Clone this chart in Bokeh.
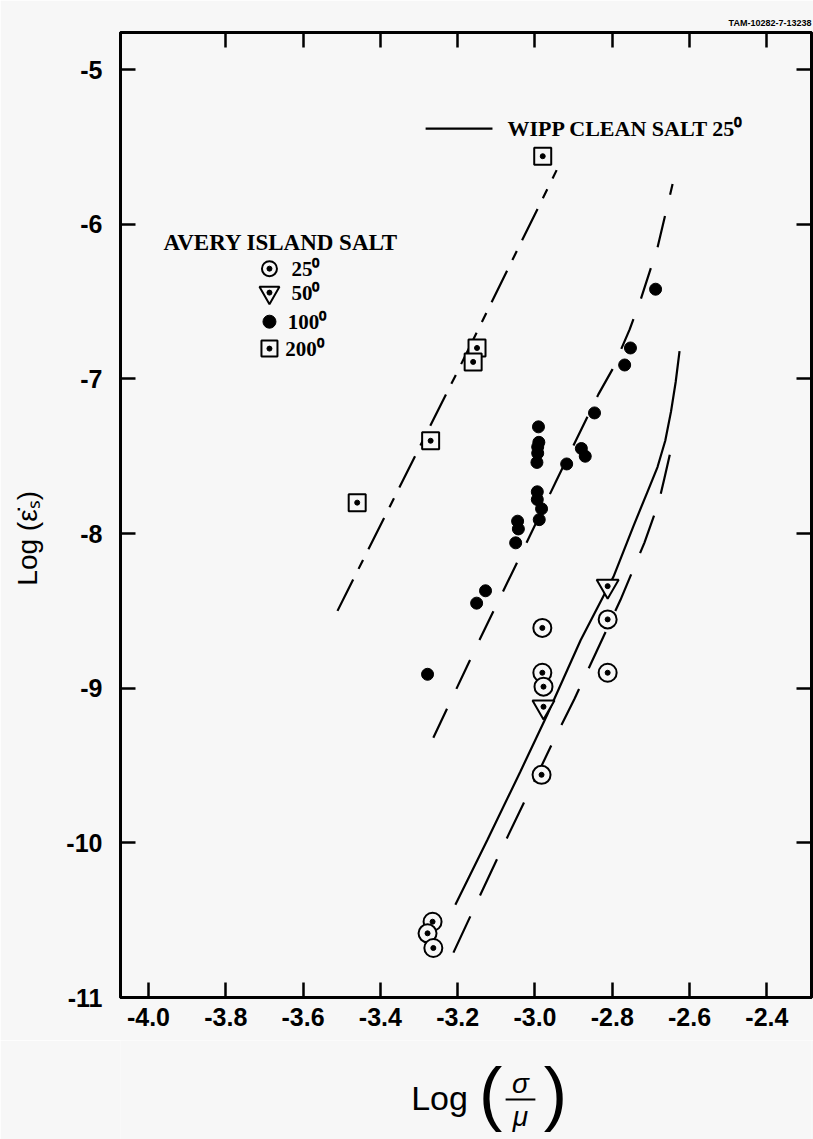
from bokeh.plotting import figure
from bokeh.layouts import column
from bokeh.models import Range1d, LinearAxis, FixedTicker, Label, NumeralTickFormatter
from bokeh.embed import file_html
from bokeh.resources import INLINE
from bokeh.core.properties import value

# ---------------- data ----------------
# Avery Island salt, 200 deg (boxed dot)
t200_x = [-2.98, -3.15, -3.16, -3.27, -3.46]
t200_y = [-5.56, -6.80, -6.89, -7.40, -7.80]

# Avery Island salt, 100 deg (filled dot)
t100_x = [-2.688, -2.753, -2.768, -2.846, -2.991, -2.990, -2.993, -2.993, -2.995,
          -2.880, -2.870, -2.918, -2.994, -2.994, -2.983, -2.989, -3.045, -3.043,
          -3.050, -3.128, -3.151, -3.278]
t100_y = [-6.42, -6.80, -6.91, -7.22, -7.31, -7.41, -7.44, -7.48, -7.54,
          -7.45, -7.50, -7.55, -7.73, -7.78, -7.84, -7.91, -7.92, -7.97,
          -8.06, -8.37, -8.45, -8.91]

# Avery Island salt, 50 deg (inverted triangle)
t50_x = [-2.812, -2.978]
t50_y = [-8.34, -9.12]

# Avery Island salt, 25 deg (circled dot)
t25_x = [-2.981, -2.812, -2.981, -2.978, -2.812, -2.983, -3.265, -3.278, -3.263]
t25_y = [-8.61, -8.555, -8.90, -8.99, -8.90, -9.56, -10.51, -10.585, -10.68]

# WIPP clean salt 25 deg (solid curve)
wipp_x = [-3.206, -3.123, -3.038, -2.968, -2.882, -2.797, -2.745, -2.709, -2.683, -2.663, -2.648, -2.636, -2.626]
wipp_y = [-10.40, -9.98, -9.54, -9.17, -8.69, -8.28, -7.95, -7.73, -7.57, -7.40, -7.21, -7.02, -6.82]

# fitted dashed curves for Avery Island salt
fit25_x = [-3.211, -3.144, -3.069, -2.952, -2.898, -2.779, -2.717, -2.680, -2.665, -2.642]
fit25_y = [-10.71, -10.35, -9.95, -9.34, -9.07, -8.43, -8.06, -7.80, -7.64, -7.39]
fit100_x = [-3.263, -3.144, -3.045, -2.947, -2.836, -2.800, -2.755, -2.727, -2.683, -2.644]
fit100_y = [-9.32, -8.69, -8.18, -7.67, -7.10, -6.94, -6.68, -6.49, -6.15, -5.74]
fit200_x = [-3.511, -3.203, -2.944]
fit200_y = [-8.50, -6.965, -5.65]

x_ticks = [-4.0, -3.8, -3.6, -3.4, -3.2, -3.0, -2.8, -2.6, -2.4]
x_ticks_top = [-3.8, -3.6, -3.4, -3.2, -3.0, -2.8, -2.6, -2.4]
y_ticks = [-5, -6, -7, -8, -9, -10, -11]

legend_title = "AVERY ISLAND SALT"
legend_labels = ["25\u2070", "50\u2070", "100\u2070", "200\u2070"]
wipp_label = "WIPP CLEAN SALT  25\u2070"
doc_id = "TAM-10282-7-13238"
y_label = "Log (\u03b5\u0307\u209b)"
x_label_parts = ["Log", "(", ")", "\u03c3", "\u03bc"]

# ---------------- figure ----------------
BG = "#f7f7f7"
SANS = "Liberation Sans"
SERIF = "Liberation Serif"

p = figure(width=813, height=1040,
           x_range=Range1d(-4.0724, -2.2846), y_range=Range1d(-11.0, -4.76),
           output_backend="svg", toolbar_location=None,
           min_border_left=120, min_border_right=2, min_border_top=32, min_border_bottom=43)
p.background_fill_color = BG
p.border_fill_color = BG
p.outline_line_color = "black"
p.outline_line_width = 3
p.xgrid.visible = False
p.ygrid.visible = False

p.title.text = doc_id
p.title.align = "right"
p.title.text_font = SANS
p.title.text_font_style = "bold"
p.title.text_font_size = "9px"
p.title.text_color = "black"
p.title.standoff = 10


def style_axis(ax, ticks, labels=True, fmt="0"):
    ax.ticker = FixedTicker(ticks=ticks)
    ax.formatter = NumeralTickFormatter(format=fmt)
    ax.axis_line_color = "black"
    ax.axis_line_width = 3
    ax.major_tick_line_color = "black"
    ax.major_tick_line_width = 2.5
    ax.major_tick_in = 15
    ax.major_tick_out = 0
    ax.minor_tick_line_color = None
    if labels:
        ax.major_label_text_font = SANS
        ax.major_label_text_font_style = "bold"
        ax.major_label_text_font_size = "25px"
        ax.major_label_text_color = "black"
    else:
        ax.major_label_text_font_size = "1px"
        ax.major_label_text_color = None
        ax.major_label_standoff = 0


style_axis(p.xaxis[0], x_ticks, fmt="0.0")
p.xaxis[0].major_label_standoff = 10
style_axis(p.yaxis[0], y_ticks)
p.yaxis[0].major_label_standoff = 18
# non-breaking spaces at the end push the centred label down, as in the original
p.yaxis[0].axis_label = y_label + "\u00a0" * 6
p.yaxis[0].axis_label_text_font = SANS
p.yaxis[0].axis_label_text_font_style = "normal"
p.yaxis[0].axis_label_text_font_size = "28px"
p.yaxis[0].axis_label_text_color = "black"
p.yaxis[0].axis_label_standoff = 20

ax_r = LinearAxis()
style_axis(ax_r, y_ticks, labels=False)
p.add_layout(ax_r, "right")
ax_t = LinearAxis()
style_axis(ax_t, x_ticks_top, labels=False)
p.add_layout(ax_t, "above")

# ---------------- curves ----------------
p.line(wipp_x, wipp_y, line_color="black", line_width=2.2)
p.line(fit25_x, fit25_y, line_color="black", line_width=2.2, line_dash="40 23")
p.line(fit100_x, fit100_y, line_color="black", line_width=2.2, line_dash="32 22")
p.line(fit200_x, fit200_y, line_color="black", line_width=2.2, line_dash="35 12 10 12")

# ---------------- markers ----------------
def boxed(xs, ys, marker, size):
    p.scatter(xs, ys, marker=marker, size=size, fill_color=BG, line_color="black", line_width=2)
    p.scatter(xs, ys, marker="circle", size=5, fill_color="black", line_color="black")

boxed(t200_x, t200_y, "square", 17)
boxed(t25_x, t25_y, "circle", 18)
boxed(t50_x, t50_y, "inverted_triangle", 22)
p.scatter(t100_x, t100_y, marker="circle", size=12, fill_color="black", line_color="black")

# ---------------- legend (drawn as in the original) ----------------
leg_x = -3.687
leg_y = [-6.287, -6.442, -6.630, -6.804]
leg_tx = [-3.630, -3.630, -3.640, -3.646]
p.scatter([leg_x], [leg_y[0]], marker="circle", size=15, fill_color=BG, line_color="black", line_width=2)
p.scatter([leg_x], [leg_y[1]], marker="inverted_triangle", size=20, fill_color=BG, line_color="black", line_width=2)
p.scatter([leg_x], [leg_y[3]], marker="square", size=16, fill_color=BG, line_color="black", line_width=2)
p.scatter([leg_x] * 3, [leg_y[0], leg_y[1], leg_y[3]], marker="circle", size=5, fill_color="black", line_color="black")
p.scatter([leg_x], [leg_y[2]], marker="circle", size=13, fill_color="black", line_color="black")
p.add_layout(Label(x=-3.961, y=-6.118, text=legend_title, text_font=SERIF, text_font_style="bold",
                   text_font_size="23px", text_color="black", text_baseline="middle", text_align="left"))
for tx, ty, t in zip(leg_tx, leg_y, legend_labels):
    p.add_layout(Label(x=tx, y=ty, text=t, text_font=SERIF, text_font_style="bold",
                       text_font_size="21px", text_color="black", text_baseline="middle", text_align="left"))

p.line([-3.283, -3.110], [-5.381, -5.381], line_color="black", line_width=2.2)
p.add_layout(Label(x=-3.071, y=-5.381, text=wipp_label, text_font=SERIF, text_font_style="bold",
                   text_font_size="22px", text_color="black", text_baseline="middle", text_align="left"))

# ---------------- x-axis label strip: Log( sigma / mu ) ----------------
# a bare strip below the chart: same x scale as the chart, y in page pixels (downwards)
q = figure(width=813, height=99, x_range=p.x_range, y_range=Range1d(1139, 1040),
           x_axis_location=None, y_axis_location=None,
           output_backend="svg", toolbar_location=None,
           min_border_left=120, min_border_right=2, min_border_top=0, min_border_bottom=0)
q.xgrid.visible = False
q.ygrid.visible = False
q.outline_line_color = None
q.background_fill_color = BG
q.border_fill_color = BG

q.text(x=[-3.247], y=[1097], text=[x_label_parts[0]], text_font=value(SANS), text_font_size="34px",
       text_color="black", text_align="center", text_baseline="middle")
q.text(x=[-3.115, -2.947], y=[1092, 1092], text=x_label_parts[1:3], text_font=value(SANS),
       text_font_size="70px", text_color="black", text_align="center", text_baseline="middle")
q.text(x=[-3.0375], y=[1083], text=[x_label_parts[3]], text_font=value(SANS), text_font_style="italic",
       text_font_size="28px", text_color="black", text_align="center", text_baseline="middle")
q.text(x=[-3.0375], y=[1116], text=[x_label_parts[4]], text_font=value(SANS), text_font_style="italic",
       text_font_size="28px", text_color="black", text_align="center", text_baseline="middle")
q.segment(x0=[-3.076], y0=[1099], x1=[-2.999], y1=[1099], line_color="black", line_width=2)

open("out.html", "w").write(file_html(column(p, q), INLINE))
